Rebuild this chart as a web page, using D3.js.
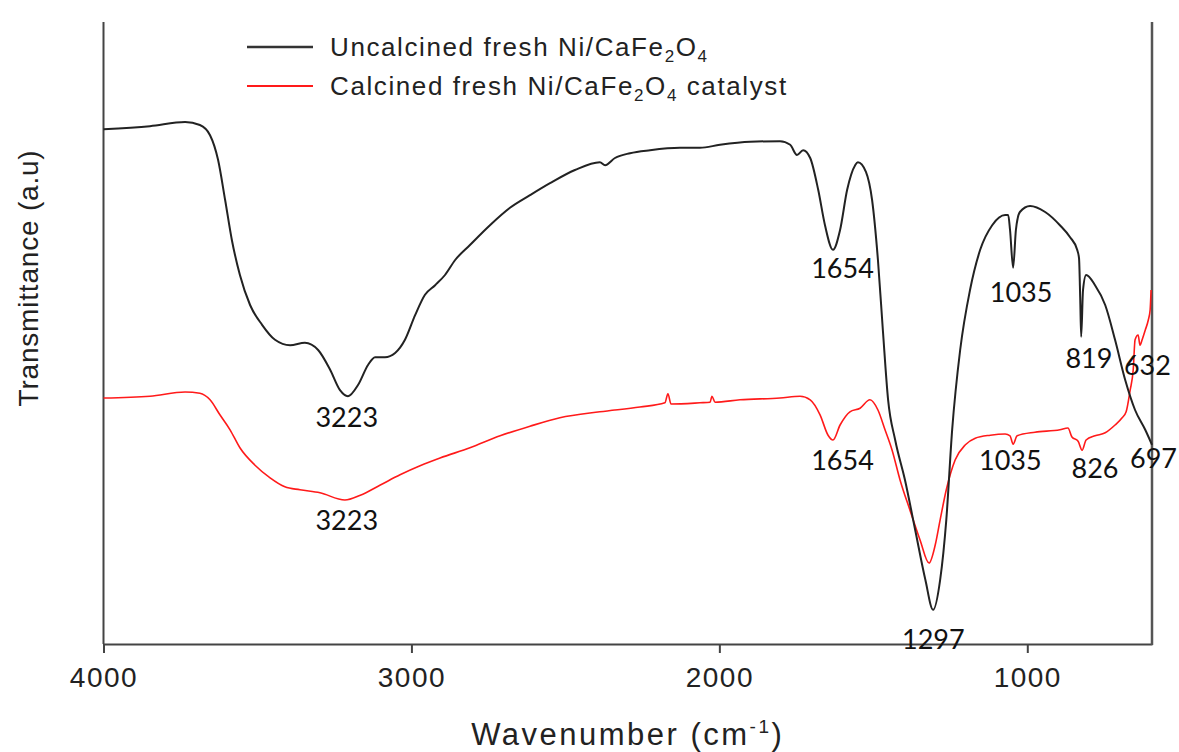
<!DOCTYPE html>
<html>
<head>
<meta charset="utf-8">
<script src="https://cdn.jsdelivr.net/npm/d3@7"></script>
<style>
  body { margin: 0; background: #fff; }
  .axis path, .axis line { stroke: #444; stroke-width: 2; }
  .tick text { font-family: "Liberation Sans", Arial, sans-serif; fill: #222; }
  .peak { font-family: Lato, "Open Sans", sans-serif; font-size: 27px; fill: #111; text-anchor: middle; }
</style>
</head>
<body>
<div id="vis"></div>
<script>

const FRAME_WIDTH = 1179;
const FRAME_HEIGHT = 752;
const MARGINS = {left: 103.5, right: 27, top: 22, bottom: 108};

// uncalcined fresh Ni/CaFe2O4 (black)
const uncWave = [4000, 3849, 3735, 3687, 3654, 3628, 3605, 3583, 3557, 3524, 3485, 3443, 3394, 3346,
  3303, 3264, 3232, 3206, 3173, 3141, 3118, 3086, 3053, 3021, 2988, 2956, 2923, 2891, 2858, 2810,
  2745, 2680, 2615, 2550, 2469, 2388, 2371, 2339, 2290, 2225, 2128, 2063, 1998, 1900, 1803, 1770,
  1748, 1728, 1705, 1679, 1657, 1631, 1608, 1585, 1559, 1550, 1524, 1504, 1485, 1469, 1452, 1429,
  1397, 1364, 1331, 1306, 1283, 1263, 1244, 1218, 1186, 1153, 1114, 1072, 1062, 1056, 1046, 1037,
  1024, 991, 942, 894, 861, 838, 832, 828, 825, 819, 809, 780, 747, 715, 682, 650, 617, 595];
const uncT = [85.8, 86.3, 87.0, 86.5, 84.8, 80.7, 74.0, 67.3, 61.5, 56.5, 53.2, 50.7, 49.8, 50.2,
  49.0, 45.7, 42.3, 41.3, 43.2, 46.5, 47.8, 47.8, 48.5, 50.7, 54.8, 58.2, 59.8, 61.5, 64.0, 66.5,
  69.8, 72.7, 74.8, 76.8, 79.0, 80.3, 79.8, 81.0, 81.8, 82.3, 82.7, 82.7, 83.2, 83.7, 83.8, 83.2,
  81.5, 82.3, 81.0, 75.7, 69.8, 65.7, 69.0, 75.7, 79.8, 80.3, 78.7, 74.0, 64.0, 52.3, 40.7, 34.0,
  27.3, 19.0, 10.7, 5.7, 10.7, 20.7, 35.7, 49.0, 59.0, 65.7, 69.8, 71.5, 71.5, 69.0, 62.7, 69.0,
  72.0, 73.0, 72.0, 69.8, 67.8, 65.7, 64.3, 57.3, 51.2, 59.0, 61.5, 59.8, 56.5, 50.7, 44.0, 39.0, 35.7, 33.2];

// calcined fresh Ni/CaFe2O4 catalyst (red)
const calWave = [4000, 3849, 3735, 3687, 3654, 3622, 3589, 3557, 3508, 3459, 3411, 3362, 3297, 3216,
  3166, 3101, 3037, 2972, 2907, 2810, 2712, 2615, 2518, 2388, 2258, 2177, 2167, 2157, 2063, 2030,
  2024, 2014, 1933, 1803, 1738, 1705, 1673, 1647, 1631, 1608, 1576, 1543, 1511, 1485, 1462, 1439,
  1413, 1381, 1348, 1319, 1299, 1283, 1263, 1234, 1201, 1169, 1120, 1072, 1056, 1046, 1033, 975,
  894, 868, 855, 835, 822, 809, 780, 747, 715, 692, 679, 666, 656, 650, 640, 634, 627, 617, 607, 601, 598];
const calT = [41.0, 41.3, 42.0, 41.8, 40.7, 38.2, 35.7, 32.7, 29.8, 27.7, 26.2, 25.7, 25.2, 24.0,
  24.8, 26.5, 28.2, 29.7, 31.0, 32.7, 34.7, 36.3, 37.7, 38.7, 39.5, 40.2, 41.7, 40.0, 40.2, 40.3,
  41.3, 40.3, 40.7, 41.0, 41.3, 40.7, 38.2, 34.8, 34.0, 36.5, 38.7, 39.3, 40.7, 39.0, 35.7, 32.3,
  27.3, 22.3, 17.3, 13.5, 16.5, 20.7, 25.7, 30.7, 33.2, 34.3, 34.8, 35.0, 34.7, 33.3, 34.7, 35.3,
  35.7, 36.0, 34.5, 33.8, 32.3, 34.0, 34.7, 35.2, 36.5, 37.7, 38.7, 42.3, 45.7, 50.7, 51.5, 49.8, 50.7, 52.3, 54.0, 55.7, 59.0];

const xTicks = [4000, 3000, 2000, 1000];

// peak labels: text, wavenumber, transmittance position of the label baseline
const peakText = ["3223", "1654", "1035", "819", "632", "3223", "1654", "1297", "1035", "826", "697"];
const peakWave = [3210, 1600, 1020, 800, 610, 3210, 1600, 1305, 1055, 780, 590];
const peakT    = [36.2, 61.0, 57.0, 46.0, 44.8, 19.0, 29.0, -0.8, 29.0, 27.7, 29.3];

const legendNames = ["Uncalcined fresh Ni/CaFe", "Calcined fresh Ni/CaFe"];
const legendTails = ["", " catalyst"];
const legendColors = ["#333", "#ff1a1a"];

const VIS_WIDTH = FRAME_WIDTH - MARGINS.left - MARGINS.right;
const VIS_HEIGHT = FRAME_HEIGHT - MARGINS.top - MARGINS.bottom;

const svg = d3.select("#vis")
  .append("svg")
    .attr("width", FRAME_WIDTH)
    .attr("height", FRAME_HEIGHT);

const X_SCALE = d3.scaleLinear()
  .domain([4000, 595])
  .range([MARGINS.left, MARGINS.left + VIS_WIDTH]);

// y: 0 at bottom axis, 6px per unit
const Y_SCALE = d3.scaleLinear()
  .domain([0, VIS_HEIGHT / 6])
  .range([MARGINS.top + VIS_HEIGHT, MARGINS.top]);

const bottomY = MARGINS.top + VIS_HEIGHT;

// axes
svg.append("g")
    .attr("class", "axis")
    .attr("transform", "translate(0," + bottomY + ")")
    .call(d3.axisBottom(X_SCALE).tickValues(xTicks).tickSize(9).tickSizeOuter(0).tickPadding(14)
      .tickFormat(d3.format("d")))
    .selectAll("text")
      .attr("font-size", "28px")
      .attr("letter-spacing", "1.5px");

svg.append("line")
    .attr("x1", MARGINS.left).attr("x2", MARGINS.left)
    .attr("y1", MARGINS.top).attr("y2", bottomY)
    .attr("stroke", "#444").attr("stroke-width", 2);

svg.append("line")
    .attr("x1", MARGINS.left + VIS_WIDTH).attr("x2", MARGINS.left + VIS_WIDTH)
    .attr("y1", MARGINS.top).attr("y2", bottomY + 1)
    .attr("stroke", "#555").attr("stroke-width", 2.5);

// spectra
const line = d3.line()
  .curve(d3.curveMonotoneX)
  .x((d) => X_SCALE(d[0]))
  .y((d) => Y_SCALE(d[1]));

svg.append("path")
    .datum(d3.zip(calWave, calT))
    .attr("d", line)
    .attr("fill", "none")
    .attr("stroke", "#ff1a1a")
    .attr("stroke-width", 1.6);

svg.append("path")
    .datum(d3.zip(uncWave, uncT))
    .attr("d", line)
    .attr("fill", "none")
    .attr("stroke", "#222")
    .attr("stroke-width", 2);

// peak labels
svg.selectAll(".peak")
  .data(d3.range(peakText.length))
  .enter()
  .append("text")
    .attr("class", "peak")
    .attr("x", (i) => X_SCALE(peakWave[i]))
    .attr("y", (i) => Y_SCALE(peakT[i]))
    .text((i) => peakText[i]);

// axis titles
const xTitle = svg.append("text")
    .attr("x", MARGINS.left + VIS_WIDTH / 2)
    .attr("y", 745)
    .attr("text-anchor", "middle")
    .attr("font-family", "Liberation Sans, Arial, sans-serif")
    .attr("font-size", "31px")
    .attr("letter-spacing", "2.5px")
    .attr("fill", "#222");
xTitle.append("tspan").text("Wavenumber (cm");
xTitle.append("tspan").attr("font-size", "19px").attr("dy", -12).text("-1");
xTitle.append("tspan").attr("dy", 12).text(")");

svg.append("text")
    .attr("transform", "translate(38,278) rotate(-90)")
    .attr("text-anchor", "middle")
    .attr("font-family", "Liberation Sans, Arial, sans-serif")
    .attr("font-size", "28px")
    .attr("letter-spacing", "0.8px")
    .attr("fill", "#222")
    .text("Transmittance (a.u)");

// legend
const legend = svg.append("g");
legendNames.forEach((name, i) => {
  const y = 47 + i * 39;
  legend.append("line")
    .attr("x1", 247).attr("x2", 313)
    .attr("y1", y).attr("y2", y)
    .attr("stroke", legendColors[i])
    .attr("stroke-width", i === 0 ? 2.5 : 1.8);
  const t = legend.append("text")
    .attr("x", 330).attr("y", y + 9)
    .attr("font-family", "Liberation Sans, Arial, sans-serif")
    .attr("font-size", "26px")
    .attr("letter-spacing", "1.6px")
    .attr("fill", "#222");
  t.append("tspan").text(name);
  t.append("tspan").attr("font-size", "17px").attr("dy", 6).text("2");
  t.append("tspan").attr("dy", -6).text("O");
  t.append("tspan").attr("font-size", "17px").attr("dy", 6).text("4");
  t.append("tspan").attr("dy", -6).text(legendTails[i]);
});

</script>
</body>
</html>
